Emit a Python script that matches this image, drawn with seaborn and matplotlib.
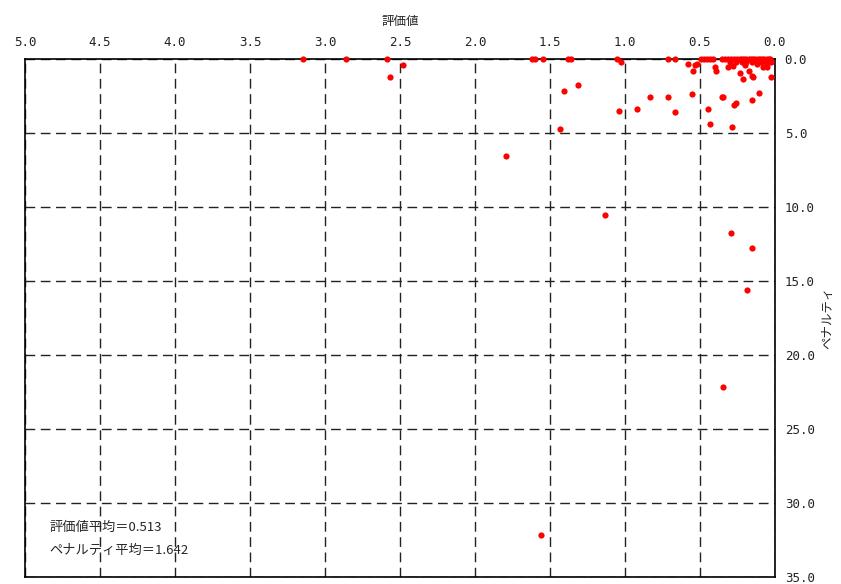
import matplotlib
matplotlib.use("Agg")

import pandas as pd
import seaborn as sns
import matplotlib.pyplot as plt
from matplotlib.ticker import FormatStrFormatter


# =========================
# 1. Data
# =========================

score = [
    # isolated / mid points
    3.147, 2.86, 2.587, 2.48, 2.565,
    1.618, 1.60, 1.545, 1.38, 1.36, 1.055, 1.024,
    1.315, 1.409, 1.042, 1.431, 1.795, 1.135,
    0.295, 0.153, 0.189, 0.349, 1.562,
    0.711, 0.667, 0.578, 0.533, 0.518, 0.544,
    0.831, 0.711, 0.551, 0.918, 0.664,
    0.40, 0.393, 0.316, 0.233, 0.211, 0.171, 0.156, 0.149,
    0.078, 0.056, 0.029,
    0.356, 0.344, 0.26, 0.275, 0.156, 0.109,
    0.444, 0.433, 0.289,
    # top row cluster
    0.49, 0.47, 0.45, 0.43, 0.41, 0.355, 0.33, 0.31, 0.29, 0.27,
    0.25, 0.235, 0.22, 0.205, 0.19, 0.175, 0.16, 0.145, 0.13, 0.115,
    0.10, 0.085, 0.07, 0.055, 0.04, 0.03,
    # second row
    0.30, 0.26, 0.22, 0.19, 0.15, 0.12, 0.09, 0.06, 0.04, 0.025,
    # third row
    0.28, 0.20, 0.12,
]

penalty = [
    0.0, 0.0, 0.0, 0.38, 1.2,
    0.0, 0.0, 0.0, 0.0, 0.0, 0.0, 0.17,
    1.76, 2.18, 3.54, 4.75, 6.55, 10.56,
    11.76, 12.75, 15.59, 22.14, 32.16,
    0.0, 0.0, 0.36, 0.38, 0.36, 0.81,
    2.59, 2.59, 2.34, 3.4, 3.56,
    0.52, 0.81, 0.56, 0.97, 1.37, 0.81, 1.15, 1.24,
    0.52, 0.52, 1.19,
    2.59, 2.59, 2.95, 3.1, 2.77, 2.32,
    3.4, 4.38, 4.62,
    0.0, 0.0, 0.0, 0.0, 0.0, 0.0, 0.0, 0.0, 0.0, 0.0,
    0.0, 0.0, 0.0, 0.0, 0.0, 0.0, 0.0, 0.0, 0.0, 0.0,
    0.0, 0.0, 0.0, 0.0, 0.0, 0.0,
    0.2, 0.22, 0.18, 0.2, 0.22, 0.18, 0.2, 0.22, 0.2, 0.18,
    0.45, 0.4, 0.35,
]

mean_text = ["評価値平均＝0.513", "ペナルティ平均＝1.642"]

df = pd.DataFrame({"評価値": score, "ペナルティ": penalty})


# =========================
# 2. Style
# =========================

sns.set_style("white")
plt.rcParams["font.family"] = ["Noto Sans CJK JP", "DejaVu Sans"]


# =========================
# 3. Figure
# =========================

fig = plt.figure(figsize=(8.41, 5.84), dpi=100)
ax = fig.add_axes([0.0297, 0.012, 0.8918, 0.887])

sns.scatterplot(
    data=df,
    x="評価値",
    y="ペナルティ",
    color="red",
    s=20,
    linewidth=0,
    clip_on=False,
    ax=ax,
    zorder=3,
)

ax.set_xlim(5.0, 0.0)
ax.set_ylim(35.0, 0.0)
ax.set_xticks([5.0, 4.5, 4.0, 3.5, 3.0, 2.5, 2.0, 1.5, 1.0, 0.5, 0.0])
ax.set_yticks([0, 5, 10, 15, 20, 25, 30, 35])
ax.xaxis.set_major_formatter(FormatStrFormatter("%.1f"))
ax.yaxis.set_major_formatter(FormatStrFormatter("%.1f"))

ax.xaxis.tick_top()
ax.xaxis.set_label_position("top")
ax.yaxis.tick_right()
ax.yaxis.set_label_position("right")
ax.tick_params(length=0, labelsize=9, pad=7, colors="#222222")
for lbl in ax.get_xticklabels() + ax.get_yticklabels():
    lbl.set_family("DejaVu Sans Mono")

ax.set_xlabel("評価値", fontsize=9, labelpad=8)
ax.set_ylabel("ペナルティ", fontsize=9, labelpad=5)

ax.grid(True, linestyle=(0, (7, 4)), color="#222222", linewidth=1.0)
for sp in ax.spines.values():
    sp.set_color("black")
    sp.set_linewidth(1.2)
    sp.set_zorder(2.5)

ax.text(0.033, 0.088, mean_text[0], transform=ax.transAxes, fontsize=9.5)
ax.text(0.033, 0.045, mean_text[1], transform=ax.transAxes, fontsize=9.5)

fig.savefig("out.png", dpi=100)
